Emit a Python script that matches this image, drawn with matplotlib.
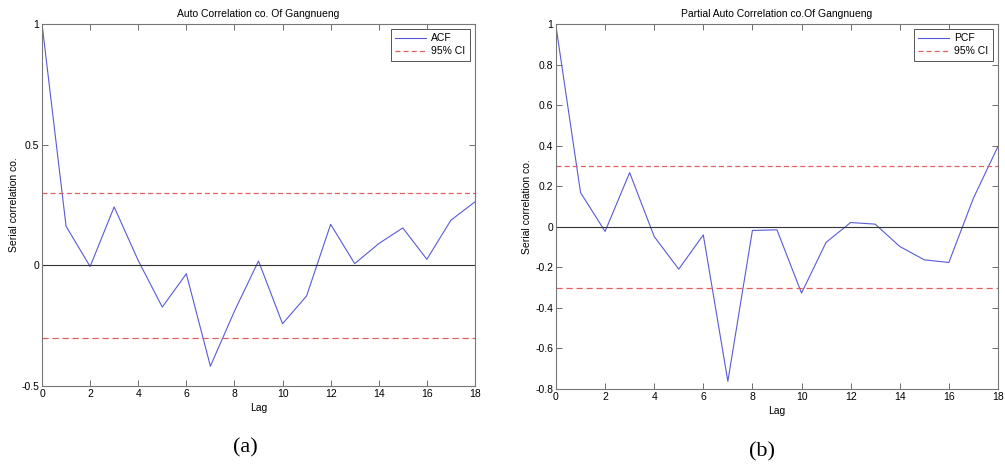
import numpy as np
import matplotlib
matplotlib.use("Agg")
import matplotlib.pyplot as plt

plt.rcParams['font.family'] = ['Liberation Sans', 'DejaVu Sans']

# Dados
lags = np.arange(0, 19)
acf = [1.0, 0.162, -0.005, 0.242, 0.02, -0.173, -0.035, -0.418, -0.19, 0.018,
       -0.242, -0.127, 0.170, 0.007, 0.09, 0.155, 0.025, 0.187, 0.263]
pcf = [0.99, 0.169, -0.023, 0.267, -0.048, -0.209, -0.04, -0.762, -0.018, -0.015,
       -0.327, -0.077, 0.021, 0.013, -0.097, -0.163, -0.176, 0.141, 0.396]
ci = 0.30

titulos = ['Auto Correlation co. Of Gangnueng', 'Partial Auto Correlation co.Of Gangnueng']
legendas = ['ACF', 'PCF']
ylims = [(-0.5, 1), (-0.8, 1)]
yticks = [[-0.5, 0, 0.5, 1], [-0.8, -0.6, -0.4, -0.2, 0, 0.2, 0.4, 0.6, 0.8, 1]]
yticklabels = [['-0.5', '0', '0.5', '1'],
               ['-0.8', '-0.6', '-0.4', '-0.2', '0', '0.2', '0.4', '0.6', '0.8', '1']]
paineis = ['(a)', '(b)']

fig = plt.figure(figsize=(10.05, 4.66), dpi=100)
posicoes = [[0.0418, 0.1717, 0.4308, 0.7768], [0.5532, 0.1652, 0.4398, 0.7833]]
series = [acf, pcf]

for i in range(2):
    ax = fig.add_axes(posicoes[i])
    ax.plot(lags, series[i], color='#5a5ad8', lw=0.8, label=legendas[i])
    ax.axhline(ci, color='#e06060', lw=0.9, ls='--', dashes=(4, 2.5), label='95% CI')
    ax.axhline(-ci, color='#e06060', lw=0.9, ls='--', dashes=(5, 3))
    ax.axhline(0, color='#333333', lw=0.8)
    ax.set_xlim(0, 18)
    ax.set_ylim(*ylims[i])
    ax.set_xticks(np.arange(0, 19, 2))
    ax.set_yticks(yticks[i])
    ax.set_yticklabels(yticklabels[i])
    ax.tick_params(direction='in', top=True, right=True, labelsize=7.5,
                   length=4, width=0.6, color='#555555', pad=2)
    for s in ax.spines.values():
        s.set_color('#777777')
        s.set_linewidth(0.8)
    ax.set_title(titulos[i], fontsize=7.5, pad=5)
    ax.set_xlabel('Lag', fontsize=7.5, labelpad=3)
    ax.set_ylabel('Serial correlation co.', fontsize=7.5, labelpad=2)
    leg = ax.legend(loc='upper right', fontsize=7.5, fancybox=False, framealpha=1,
                    edgecolor='#555555', handlelength=3.0, handletextpad=0.5,
                    borderaxespad=0.5, labelspacing=0.3, borderpad=0.4)
    leg.get_frame().set_linewidth(0.7)

fig.text(0.244, 0.039, paineis[0], ha='center', va='center', fontsize=16,
         family='Liberation Serif')
fig.text(0.758, 0.03, paineis[1], ha='center', va='center', fontsize=16,
         family='Liberation Serif')

fig.savefig('out.png', dpi=100)
